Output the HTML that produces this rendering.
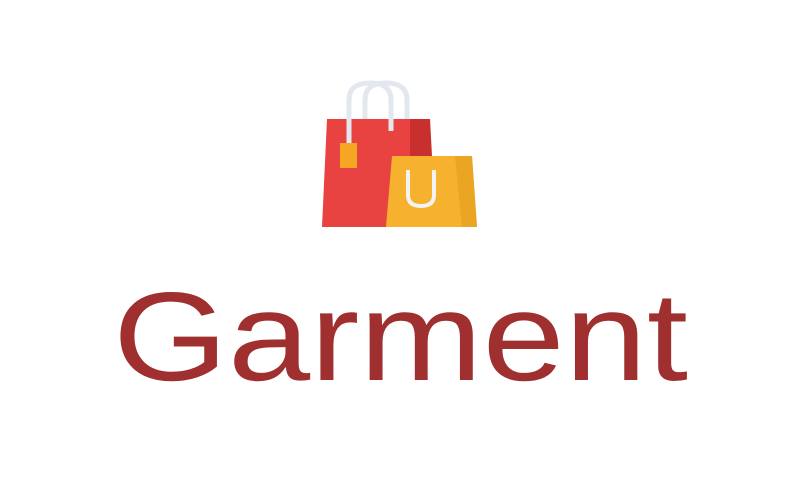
<!DOCTYPE html>
<html><head><meta charset="utf-8"><style>
html,body{margin:0;padding:0;background:#fff;width:800px;height:500px;overflow:hidden}
</style></head><body>
<svg width="800" height="500" viewBox="0 0 800 500">
<g>
  <path d="M365 119 V100 Q365 83 386 83 Q407 83 407 100 V135" fill="none" stroke="#e3e8ee" stroke-width="5"/>
  <polygon points="327,119 430,119 432,227 322,227" fill="#e84340"/>
  <polygon points="410,119 430,119 432,156 410,156" fill="#c9302d"/>
  <path d="M349 145 V100 Q349 83 370 83 Q391 83 391 100 V131" fill="none" stroke="#e3e8ee" stroke-width="5"/>
  <rect x="340" y="143" width="17" height="25" fill="#f5a623"/>
  <polygon points="392,156 472,156 477,227 386,227" fill="#f6b12f"/>
  <polygon points="455,156 472,156 477,227 462,227" fill="#eaa522"/>
  <path d="M408 170 V195 Q408 206 421 206 Q434 206 434 195 V170" fill="none" stroke="#f3f3f3" stroke-width="4"/>
</g>
<text x="113" y="380" textLength="575" lengthAdjust="spacingAndGlyphs" font-family="Liberation Sans, sans-serif" font-size="126" fill="#a03030">Garment</text>
</svg>
</body></html>
